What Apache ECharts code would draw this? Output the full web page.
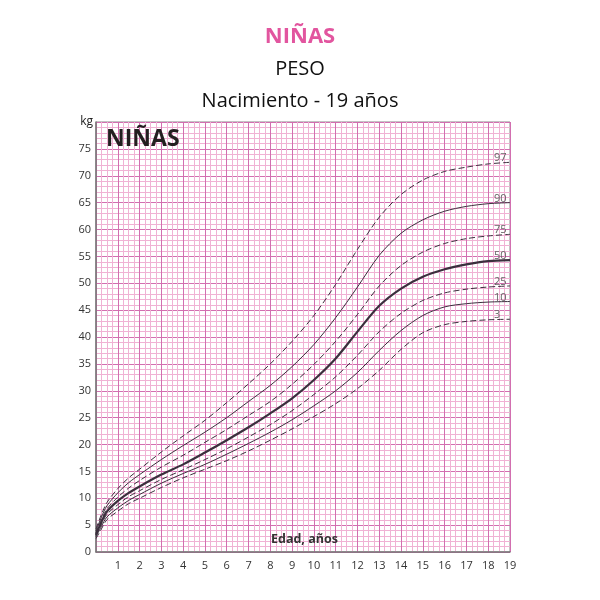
<!DOCTYPE html>
<html><head><meta charset="utf-8">
<script src="https://cdn.jsdelivr.net/npm/echarts@6/dist/echarts.min.js"></script>
<style>html,body{margin:0;padding:0;background:#fff}#c{width:600px;height:600px}</style>
</head><body><div id="c"></div>
<script>
const ages = [0,0.25,0.5,1,1.5,2,3,4,5,6,7,8,9,10,11,12,13,14,15,16,17,18,19];
const p97 = [4.3,7.0,9.2,11.8,13.8,15.4,18.6,21.6,24.5,27.8,31.3,35.0,39.2,44.0,49.8,56.3,62.3,66.5,69.2,70.8,71.6,72.2,72.5];
const p90 = [3.9,6.5,8.6,11.0,12.9,14.4,17.2,19.8,22.3,25.0,28.0,31.0,34.5,38.6,43.6,49.3,55.2,59.3,61.8,63.4,64.3,64.8,65.0];
const p75 = [3.6,6.0,8.0,10.2,11.9,13.3,15.8,18.0,20.4,22.8,25.4,28.0,31.2,34.9,39.2,44.2,49.5,53.3,55.8,57.4,58.3,58.8,59.1];
const p50 = [3.2,5.6,7.5,9.5,11.0,12.2,14.4,16.3,18.5,20.8,23.2,25.8,28.6,32.0,36.0,41.0,45.8,49.0,51.2,52.6,53.5,54.1,54.3];
const p25 = [3.0,5.2,7.0,8.8,10.3,11.4,13.5,15.3,17.2,19.2,21.4,23.7,26.3,29.3,32.6,36.6,41.0,44.4,46.8,48.2,48.9,49.3,49.5];
const p10 = [2.8,4.8,6.5,8.2,9.6,10.7,12.8,14.6,16.3,18.2,20.2,22.3,24.6,27.2,30.0,33.4,37.5,41.2,44.0,45.6,46.2,46.5,46.6];
const p3  = [2.5,4.3,6.0,7.6,9.0,10.0,12.0,13.8,15.4,17.0,18.8,20.8,22.9,25.2,27.6,30.4,33.8,37.7,40.8,42.3,42.9,43.2,43.3];
const percentiles = [
  {name:'97', data:p97, dashed:true, w:1},
  {name:'90', data:p90, dashed:false, w:1},
  {name:'75', data:p75, dashed:true, w:1},
  {name:'50', data:p50, dashed:false, w:2.2},
  {name:'25', data:p25, dashed:true, w:1},
  {name:'10', data:p10, dashed:false, w:1},
  {name:'3',  data:p3,  dashed:true, w:1}
];
const xTicks = [1,2,3,4,5,6,7,8,9,10,11,12,13,14,15,16,17,18,19];

const chart = echarts.init(document.getElementById('c'));
const series = percentiles.map(p => ({
  type:'line', name:p.name, smooth:0.3, symbol:'none',
  data: ages.map((a,i)=>[a,p.data[i]]),
  lineStyle:{color:'#3b2f3d', width:p.w, type: p.dashed ? [6,3] : 'solid'},
  endLabel:{show:true, formatter:p.name, color:'#666', fontSize:11, fontFamily:'Open Sans', offset:[-24,-4]},
  z:5
}));
chart.setOption({
  animation:false,
  title:[
    {text:'NIÑAS', left:'center', top:21, textStyle:{color:'#e2559f', fontSize:22, fontWeight:'bold', fontFamily:'Open Sans'}},
    {text:'PESO', left:'center', top:54, textStyle:{color:'#111', fontSize:20, fontWeight:'normal', fontFamily:'Open Sans'}},
    {text:'Nacimiento - 19 años', left:'center', top:86, textStyle:{color:'#111', fontSize:20, fontWeight:'normal', fontFamily:'Open Sans'}}
  ],
  grid:{left:96, right:90, top:122, bottom:48, show:true, borderColor:'#888', borderWidth:1, backgroundColor:'#fff'},
  xAxis:{type:'value', min:0, max:19, interval:1,
    axisLine:{show:true, lineStyle:{color:'#777', width:1.5}},
    axisTick:{show:false},
    axisLabel:{color:'#333', fontSize:11, fontFamily:'Open Sans', margin:8,
      formatter:v => xTicks.includes(v) ? String(v) : ''},
    splitLine:{show:true, lineStyle:{color:'#d26fb0', width:1}},
    minorTick:{show:false, splitNumber:4},
    minorSplitLine:{show:true, lineStyle:{color:'#f0b2d4', width:1}}
  },
  yAxis:{type:'value', min:0, max:80, interval:5, name:'kg', nameLocation:'end', nameGap:-6,
    nameTextStyle:{color:'#222', fontSize:12, fontFamily:'Open Sans', align:'right', padding:[0,3,0,0]},
    axisLine:{show:true, lineStyle:{color:'#777', width:1.5}},
    axisTick:{show:false},
    axisLabel:{color:'#333', fontSize:11, fontFamily:'Open Sans', margin:5,
      formatter:v => v===80 ? '' : String(v)},
    splitLine:{show:true, lineStyle:{color:'#d26fb0', width:1}},
    minorTick:{show:false, splitNumber:5},
    minorSplitLine:{show:true, lineStyle:{color:'#f0b2d4', width:1}}
  },
  graphic:[
    {type:'text', left:106, top:128, style:{text:'NIÑAS', fontSize:23, fontWeight:'bold', fontFamily:'Open Sans', fill:'#231f20'}, z:10},
    {type:'text', left:271, top:533, style:{text:'Edad, años', fontSize:12.5, fontWeight:'bold', fontFamily:'Open Sans', fill:'#333'}, z:10}
  ],
  series: series
});
</script></body></html>
